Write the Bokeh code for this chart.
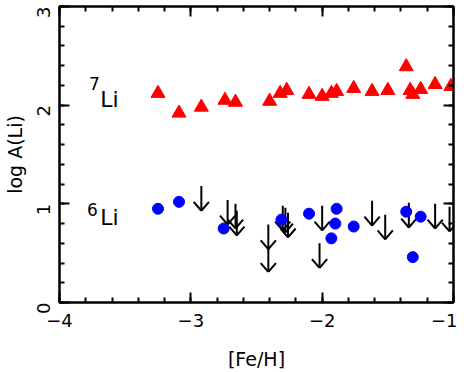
import math
from bokeh.plotting import figure
from bokeh.models import ColumnDataSource, FixedTicker, LinearAxis, Range1d
from bokeh.core.properties import value
from bokeh.embed import file_html
from bokeh.resources import INLINE

# 7Li detections
li7_feh = [-3.25, -3.09, -2.92, -2.74, -2.66, -2.40, -2.32, -2.27, -2.10, -2.00, -1.93,
           -1.89, -1.76, -1.62, -1.50, -1.36, -1.33, -1.31, -1.25, -1.14, -1.02]
li7_val = [2.12, 1.92, 1.98, 2.05, 2.03, 2.04, 2.12, 2.15, 2.11, 2.09, 2.12,
           2.14, 2.17, 2.14, 2.15, 2.39, 2.15, 2.11, 2.16, 2.21, 2.19]

# 6Li detections
li6_feh = [-3.25, -3.09, -2.75, -2.31, -2.10, -1.89, -1.90, -1.93, -1.76, -1.36, -1.25, -1.31]
li6_val = [0.95, 1.02, 0.75, 0.84, 0.90, 0.95, 0.80, 0.65, 0.77, 0.92, 0.87, 0.46]

# 6Li upper limits
lim_feh = [-2.92, -2.72, -2.66, -2.65, -2.41, -2.41, -2.30, -2.28, -2.26, -2.00, -2.02,
           -1.62, -1.52, -1.34, -1.14, -1.03]
lim_val = [1.18, 1.04, 1.00, 0.93, 0.79, 0.56, 0.98, 0.96, 0.91, 0.98, 0.60,
           1.03, 0.89, 1.01, 1.00, 0.97]

x_ticks = [-4, -3, -2, -1]
x_tick_labels = ["\u22124", "\u22123", "\u22122", "\u22121"]
y_ticks = [0, 1, 2, 3]
y_tick_labels = ["0", "1", "2", "3"]

x_label = "[Fe/H]"
y_label = "log A(Li)"
iso_sup = ["7", "6"]
iso_main = ["Li", "Li"]

FONT = "DejaVu Sans"
ARROW_LEN = 0.25
HEAD_DX = 0.058
HEAD_DY = 0.09

p = figure(output_backend="svg", toolbar_location=None,
           frame_width=394, frame_height=296,
           min_border_left=51, min_border_right=4, min_border_top=6, min_border_bottom=58,
           x_range=Range1d(-4, -1), y_range=Range1d(0, 3),
           x_axis_label=x_label, y_axis_label=y_label)
p.xgrid.visible = False
p.ygrid.visible = False
p.outline_line_color = "black"
p.outline_line_width = 2
p.background_fill_color = "white"
p.border_fill_color = "white"

xminor = [round(-4 + 0.2 * i, 2) for i in range(16)]
yminor = [round(0.2 * i, 2) for i in range(16)]
xt = FixedTicker(ticks=x_ticks, minor_ticks=xminor)
yt = FixedTicker(ticks=y_ticks, minor_ticks=yminor)

def style_axis(ax, ticker):
    ax.ticker = ticker
    ax.axis_line_width = 2
    ax.major_tick_line_width = 2
    ax.minor_tick_line_width = 2
    ax.major_tick_in = 10
    ax.major_tick_out = 0
    ax.minor_tick_in = 5
    ax.minor_tick_out = 0
    ax.major_label_text_font = FONT
    ax.major_label_text_font_size = "18px"
    ax.major_label_text_color = "black"
    ax.axis_label_text_font = FONT
    ax.axis_label_text_font_size = "19px"
    ax.axis_label_text_font_style = "normal"
    ax.axis_label_text_color = "black"

xa = p.xaxis[0]
style_axis(xa, xt)
xa.major_label_overrides = dict(zip(x_ticks, x_tick_labels))
xa.major_label_standoff = 11
xa.axis_label_standoff = 18

ya = p.yaxis[0]
style_axis(ya, yt)
ya.major_label_overrides = dict(zip(y_ticks, y_tick_labels))
ya.major_label_orientation = math.pi / 2
ya.major_label_standoff = 16
ya.axis_label_standoff = 2

for loc, tk in (("above", xt), ("right", yt)):
    ax = LinearAxis()
    style_axis(ax, tk)
    ax.major_label_text_font_size = "1px"
    ax.major_label_text_color = None
    ax.major_label_standoff = 0
    ax.axis_label = None
    p.add_layout(ax, loc)

# upper-limit arrows
tips = [v - ARROW_LEN for v in lim_val]
arr = ColumnDataSource(dict(
    x=lim_feh, y=lim_val, tip=tips,
    xl=[x - HEAD_DX for x in lim_feh], xr=[x + HEAD_DX for x in lim_feh],
    yh=[t + HEAD_DY for t in tips]))
p.segment(x0="x", y0="y", x1="x", y1="tip", source=arr, line_color="black", line_width=2)
p.segment(x0="xl", y0="yh", x1="x", y1="tip", source=arr, line_color="black", line_width=2)
p.segment(x0="xr", y0="yh", x1="x", y1="tip", source=arr, line_color="black", line_width=2)

p.scatter(li6_feh, li6_val, marker="circle", size=11, fill_color="#0000ff", line_color="#0000ff")
p.scatter(li7_feh, li7_val, marker="triangle", size=14, fill_color="#ff0000", line_color="#ff0000")

# isotope labels
lab = ColumnDataSource(dict(xs=[-3.775, -3.79], ys=[2.22, 0.94], xm=[-3.69, -3.69], ym=[2.06, 0.86],
                            sup=iso_sup, main=iso_main))
p.text(x="xs", y="ys", text="sup", source=lab, text_font=value(FONT), text_font_size="17px",
       text_baseline="alphabetic", text_align="left", text_color="black")
p.text(x="xm", y="ym", text="main", source=lab, text_font=value(FONT), text_font_size="22px",
       text_baseline="alphabetic", text_align="left", text_color="black")

open("out.html", "w").write(file_html(p, INLINE))
